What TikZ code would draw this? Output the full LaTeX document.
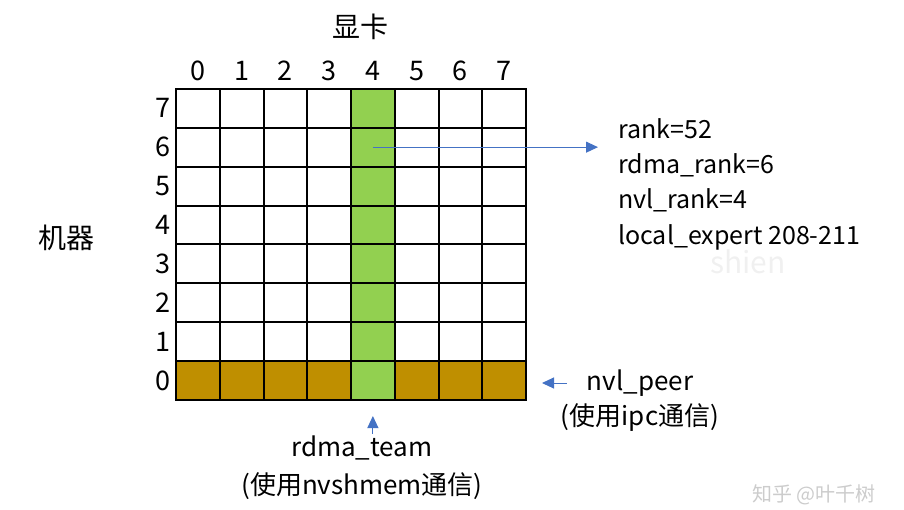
\documentclass[tikz,border=0pt]{standalone}
\usepackage{fontspec}
\setmainfont{Noto Sans CJK SC}
\usetikzlibrary{positioning, arrows.meta}

\definecolor{gpugreen}{HTML}{92D050}
\definecolor{peergold}{HTML}{BF8F00}
\definecolor{linkblue}{HTML}{4472C4}

\begin{document}
\begin{tikzpicture}[x=1pt, y=-1pt, font=\fontsize{26}{36}\selectfont,
    cell/.style={draw, line width=2pt, minimum width=43.75pt, minimum height=38.9pt, inner sep=0pt},
    idx/.style={inner sep=1pt, font=\fontsize{27}{30}\selectfont},
    note/.style={inner sep=1pt},
    link/.style={linkblue, line width=1pt, -{Triangle[length=12pt, width=11pt]}}]
    \useasboundingbox (0,0) rectangle (904,509);

    % 8 machines x 8 GPUs
    \foreach \c in {0,...,7} {
        \foreach \r in {0,...,7} {
            \ifnum\c=4 \def\tint{gpugreen}\else\ifnum\r=0 \def\tint{peergold}\else\def\tint{white}\fi\fi
            \node[cell, fill=\tint] (c-\c-\r) at ({176+43.75*(\c+0.5)}, {400-38.9*(\r+0.5)}) {};
        }
    }
    \foreach \c in {0,...,7}
        \node[idx] (col-\c) [above=6pt of c-\c-7] {\c};
    \foreach \r in {0,...,7}
        \node[idx] (row-\r) [left=3pt of c-0-\r] {\r};

    \node[font=\fontsize{28}{30}\selectfont] (gpu) at (360,27) {显卡};
    \node[font=\fontsize{28}{30}\selectfont] (machine) at (66,238) {机器};

    \node[note, anchor=west, align=left, font=\fontsize{25}{35.3}\selectfont] (info) at (617,184)
        {rank=52\\rdma\_rank=6\\nvl\_rank=4\\local\_expert 208-211};
    \node[note] (peer) at (640,383) {nvl\_peer};
    \node[note] (peerways) [below=5pt of peer] {(使用ipc通信)};
    \node[note, align=center, font=\fontsize{26}{38}\selectfont] (team) at (362,468)
        {rdma\_team\\(使用nvshmem通信)};

    \draw[link, shorten >=19pt] (c-4-6.center) -- (c-4-6.center -| info.west);
    \draw[link, shorten <=19pt, shorten >=15pt] (peer.west) -- (c-7-0.east |- peer.west);
    \draw[link, shorten <=1pt, shorten >=15pt] (team.north -| c-4-0) -- (c-4-0.south);

    % watermarks
    \node[gray!12, font=\fontsize{30}{32}\selectfont] (mark) at (748,262) {shien};
    \node[gray!40, font=\fontsize{20}{22}\selectfont] (site) at (814,495) {知乎 @叶千树};
\end{tikzpicture}
\end{document}
